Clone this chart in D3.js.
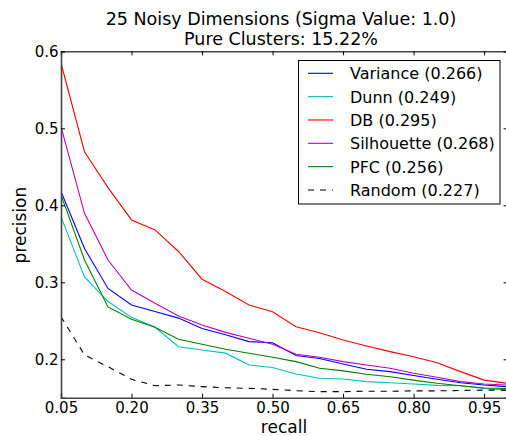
<!DOCTYPE html>
<html>
<head>
<meta charset="utf-8">
<script src="https://cdn.jsdelivr.net/npm/d3@7"></script>
<style>
  html, body { margin: 0; padding: 0; background: #fff; }
  svg { display: block; font-family: "DejaVu Sans", sans-serif; }
</style>
</head>
<body>
<svg id="chart" width="506" height="436"></svg>
<script>
// Recall levels at which precision was measured
const recall = [0.05, 0.10, 0.15, 0.20, 0.25, 0.30, 0.35, 0.40, 0.45, 0.50,
                0.55, 0.60, 0.65, 0.70, 0.75, 0.80, 0.85, 0.90, 0.95, 1.00];

// Precision per cluster-quality criterion
const variance   = [0.418, 0.344, 0.292, 0.2705, 0.262, 0.2535, 0.240, 0.232, 0.223, 0.2215,
                    0.205, 0.201, 0.194, 0.187, 0.184, 0.179, 0.174, 0.1696, 0.1666, 0.1644];
const dunn       = [0.385, 0.307, 0.275, 0.2545, 0.2416, 0.2164, 0.212, 0.208, 0.1926, 0.1893,
                    0.181, 0.1753, 0.1744, 0.171, 0.1696, 0.168, 0.1662, 0.1657, 0.1623, 0.160];
const db         = [0.5845, 0.4696, 0.423, 0.381, 0.368, 0.340, 0.304, 0.288, 0.2705, 0.2618,
                    0.2423, 0.2346, 0.225, 0.2173, 0.210, 0.2034, 0.1956, 0.184, 0.173, 0.1688];
const silhouette = [0.502, 0.3896, 0.329, 0.290, 0.2727, 0.2563, 0.2445, 0.235, 0.2273, 0.2195,
                    0.2065, 0.2026, 0.197, 0.1926, 0.1883, 0.1818, 0.1766, 0.171, 0.168, 0.1666];
const pfc        = [0.4134, 0.329, 0.268, 0.252, 0.2416, 0.226, 0.2195, 0.213, 0.2078, 0.2026,
                    0.197, 0.1883, 0.185, 0.1805, 0.1774, 0.173, 0.1688, 0.1657, 0.1627, 0.162];
const random     = [0.2553, 0.2056, 0.1904, 0.174, 0.1657, 0.1666, 0.1645, 0.163, 0.1623, 0.161,
                    0.1592, 0.158, 0.158, 0.1585, 0.1585, 0.159, 0.159, 0.1595, 0.160, 0.160];

const seriesNames = ["Variance (0.266)", "Dunn (0.249)", "DB (0.295)",
                     "Silhouette (0.268)", "PFC (0.256)", "Random (0.227)"];
const seriesValues = [variance, dunn, db, silhouette, pfc, random];
const seriesColors = ["#0000ff", "#00bfbf", "#ff0000", "#bf00bf", "#008000", "#000000"];
const seriesDashed = [false, false, false, false, false, true];

const xTicks = [0.05, 0.20, 0.35, 0.50, 0.65, 0.80, 0.95];
const yTicks = [0.2, 0.3, 0.4, 0.5, 0.6];

const titleLines = ["25 Noisy Dimensions (Sigma Value: 1.0)", "Pure Clusters: 15.22%"];

const svg = d3.select("#chart");
const plot = { left: 61, right: 507.6, top: 51.3, bottom: 397.8 };

const x = d3.scaleLinear().domain([0.05, 1.0]).range([plot.left, plot.right]);
const y = d3.scaleLinear().domain([0.15, 0.6]).range([plot.bottom, plot.top]);

svg.append("defs").append("clipPath").attr("id", "plotClip")
  .append("rect")
  .attr("x", plot.left).attr("y", plot.top)
  .attr("width", plot.right - plot.left).attr("height", plot.bottom - plot.top);

// Curves
const line = d3.line().x((d, i) => x(recall[i])).y(d => y(d));
const curves = svg.append("g").attr("clip-path", "url(#plotClip)");
seriesValues.forEach((vals, k) => {
  curves.append("path")
    .datum(vals)
    .attr("d", line)
    .attr("fill", "none")
    .attr("stroke", seriesColors[k])
    .attr("stroke-width", 1.1)
    .attr("stroke-dasharray", seriesDashed[k] ? "6,6" : null);
});

// Axes: ticks pointing inward on all four sides
const tickLen = 4;
const axisColor = "#444";
const fontTick = 15;

const gBottom = svg.append("g").attr("transform", `translate(0,${plot.bottom})`)
  .call(d3.axisBottom(x).tickValues(xTicks).tickSize(-tickLen)
        .tickFormat(d3.format(".2f")));
const gTop = svg.append("g").attr("transform", `translate(0,${plot.top})`)
  .call(d3.axisTop(x).tickValues(xTicks).tickSize(-tickLen).tickFormat(""));
const gLeft = svg.append("g").attr("transform", `translate(${plot.left},0)`)
  .call(d3.axisLeft(y).tickValues(yTicks).tickSize(-tickLen)
        .tickFormat(d3.format(".1f")));
const gRight = svg.append("g").attr("transform", `translate(${plot.right},0)`)
  .call(d3.axisRight(y).tickValues(yTicks).tickSize(-tickLen).tickFormat(""));

[gBottom, gTop, gLeft, gRight].forEach(g => {
  g.select(".domain").attr("stroke", axisColor).attr("stroke-width", 1.6);
  g.selectAll(".tick line").attr("stroke", "#000").attr("stroke-width", 1);
  g.selectAll(".tick text")
    .attr("fill", "#000")
    .style("font-family", "'DejaVu Sans', sans-serif")
    .style("font-size", fontTick + "px");
});
gLeft.selectAll(".tick text").attr("x", -2.5).attr("dy", "0.36em");
gBottom.selectAll(".tick text").attr("y", 4.5).attr("dy", "0.71em");

// Axis titles
svg.append("text")
  .attr("x", 284)
  .attr("y", 433)
  .attr("text-anchor", "middle")
  .style("font-size", "17px")
  .text("recall");

svg.append("text")
  .attr("transform", `translate(26,${(plot.top + plot.bottom) / 2 + 0.5}) rotate(-90)`)
  .attr("text-anchor", "middle")
  .style("font-size", "17px")
  .text("precision");

// Two-line title
svg.append("text")
  .attr("y", 25)
  .attr("text-anchor", "middle")
  .style("font-size", "17.5px")
  .selectAll("tspan")
  .data(titleLines)
  .join("tspan")
  .attr("x", 281)
  .attr("dy", (d, i) => i === 0 ? 0 : 19.5)
  .text(d => d);

// Legend
const legend = svg.append("g");
legend.append("rect")
  .attr("x", 298.5).attr("y", 60.5)
  .attr("width", 201.5).attr("height", 143.5)
  .attr("fill", "#fff")
  .attr("stroke", "#000")
  .attr("stroke-width", 1);

const rowY = d3.scaleLinear().domain([0, 5]).range([73.3, 190]);
seriesNames.forEach((name, k) => {
  const ry = rowY(k);
  legend.append("line")
    .attr("x1", 308).attr("x2", 333)
    .attr("y1", ry).attr("y2", ry)
    .attr("stroke", seriesColors[k])
    .attr("stroke-width", 1.1)
    .attr("stroke-dasharray", seriesDashed[k] ? "6,6" : null);
  legend.append("text")
    .attr("x", 350).attr("y", ry + 6)
    .style("font-size", "16px")
    .text(name);
});
</script>
</body>
</html>
